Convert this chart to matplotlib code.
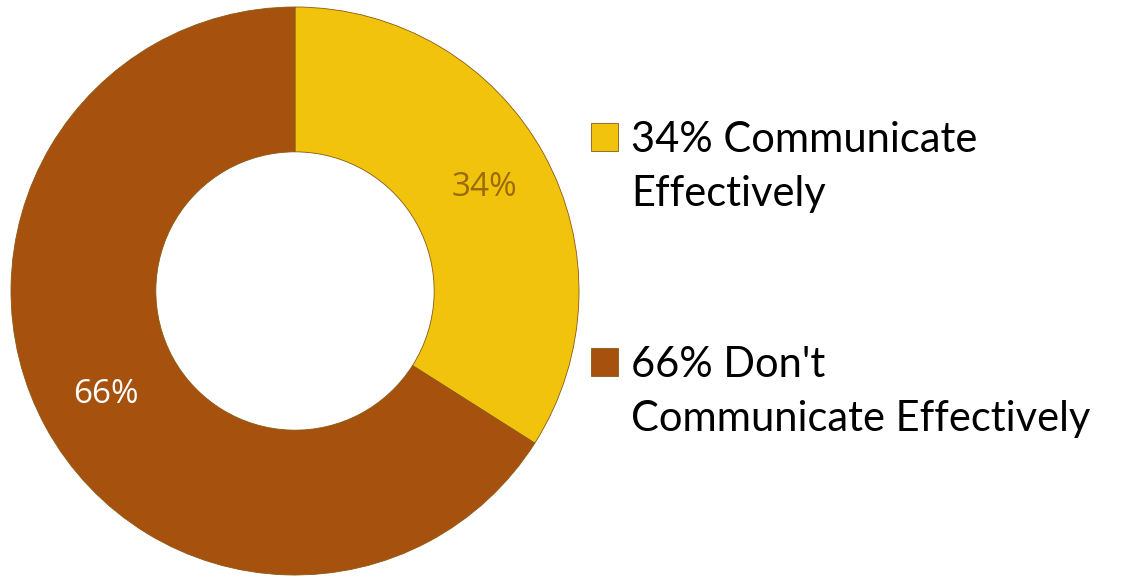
import numpy as np
import matplotlib.pyplot as plt
from matplotlib.patches import Rectangle

labels = ["34% Communicate\nEffectively", "66% Don't\nCommunicate Effectively"]
shares = [34, 66]
pct_text = ["34%", "66%"]
colors = ["#F1C30C", "#A6520E"]
label_colors = ["#9A6A06", "white"]

W, H = 1135, 582
fig = plt.figure(figsize=(W / 100, H / 100), dpi=100)

# donut axes: centre (295, 291) px, outer radius 284 px
cx, cy, r = 295, 291, 284
ax = fig.add_axes([(cx - r) / W, (H - cy - r) / H, 2 * r / W, 2 * r / H])

wedges, _ = ax.pie(shares, colors=colors, startangle=90, counterclock=False,
                   radius=1.0, wedgeprops=dict(width=0.51, edgecolor="#8a5a14",
                                               linewidth=0.6))
ax.set_xlim(-1, 1)
ax.set_ylim(-1, 1)
ax.set_aspect("equal")
ax.axis("off")

# percentage labels in the middle of the ring
theta = 90.0
for val, txt, c in zip(shares, pct_text, label_colors):
    span = 360.0 * val / sum(shares)
    mid = np.deg2rad(theta - span / 2)
    theta -= span
    ax.text(0.76 * np.cos(mid), 0.76 * np.sin(mid), txt, ha="center", va="center",
            fontsize=24, color=c, family=["Open Sans", "DejaVu Sans"])

# legend: square swatch beside a two-line label
entry_top = [123, 348]
for lab, c, top in zip(labels, colors, entry_top):
    fig.add_artist(Rectangle((591 / W, 1 - (top + 28) / H), 27 / W, 28 / H,
                             transform=fig.transFigure, facecolor=c,
                             edgecolor="#8a5a14", linewidth=0.6))
    fig.text(631 / W, 1 - (top - 2) / H, lab, ha="left", va="top",
             fontsize=30, linespacing=1.52, color="black",
             family=["Lato", "DejaVu Sans"])

fig.savefig("out.png", dpi=100)
